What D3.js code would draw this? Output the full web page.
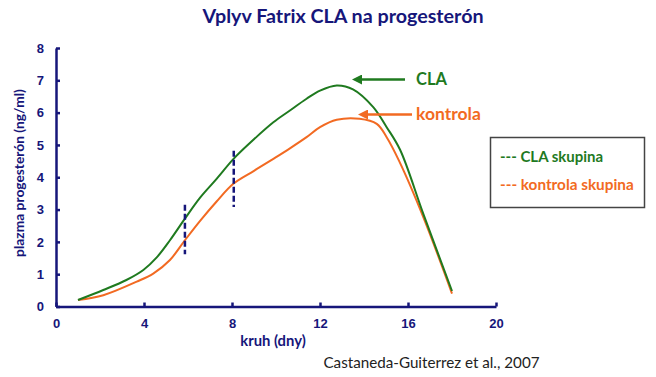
<!DOCTYPE html>
<html><head><meta charset="utf-8">
<script src="https://cdn.jsdelivr.net/npm/d3@7"></script>
<style>body{margin:0;background:#fff}svg{display:block}</style>
</head><body>
<svg id="c" width="656" height="377"></svg>
<script>
// ---- data ----
const claDays  = [1, 2.15, 3.2, 3.97, 4.58, 5.18, 5.86, 6.55, 7.3, 8.06, 8.8, 9.88, 10.6, 11.39, 12.0, 12.76, 13.5, 14.42, 15.03, 15.64, 16.7, 18];
const claVals  = [0.2, 0.51, 0.82, 1.13, 1.52, 2.05, 2.72, 3.37, 3.95, 4.56, 5.05, 5.7, 6.05, 6.43, 6.68, 6.84, 6.72, 6.17, 5.55, 4.85, 2.86, 0.48];
const konDays  = [1, 2.15, 3.67, 4.42, 5.18, 5.86, 6.55, 7.3, 8.06, 9.0, 9.88, 10.6, 11.39, 12.0, 12.76, 13.8, 14.58, 15.03, 15.6, 16.7, 18];
const konVals  = [0.2, 0.35, 0.77, 1.02, 1.44, 2.05, 2.65, 3.25, 3.8, 4.2, 4.57, 4.88, 5.24, 5.55, 5.78, 5.81, 5.65, 5.24, 4.5, 2.76, 0.4];
const xTicks = [0, 4, 8, 12, 16, 20];
const yTicks = [0, 1, 2, 3, 4, 5, 6, 7, 8];
const markDays = [5.86, 8.08];
const markLow  = [1.62, 3.08];
const markHigh = [3.15, 4.82];
const labels = {title: "Vplyv Fatrix CLA na progesterón", x: "kruh (dny)", y: "plazma progesterón (ng/ml)",
  cla: "CLA", kon: "kontrola", legCla: "--- CLA skupina", legKon: "--- kontrola skupina",
  cite: "Castaneda-Guiterrez et al., 2007"};

const NAVY = "#16167a", GREEN = "#1f7a1f", ORANGE = "#f26a22";
const FONT = "Lato, 'Open Sans', sans-serif";

const svg = d3.select("#c");
const x = d3.scaleLinear().domain([0, 20]).range([56, 496]);
const y = d3.scaleLinear().domain([0, 8]).range([306.5, 48]);

// axes
const xa = svg.append("g").attr("transform", `translate(0,${y(0)})`)
  .call(d3.axisBottom(x).tickValues(xTicks).tickSize(-4).tickSizeOuter(0).tickPadding(12));
const ya = svg.append("g").attr("transform", `translate(${x(0)},0)`)
  .call(d3.axisLeft(y).tickValues(yTicks).tickSize(-4).tickSizeOuter(0).tickPadding(12));
[xa, ya].forEach(a => {
  a.select(".domain").attr("stroke", NAVY).attr("stroke-width", 2.5);
  a.selectAll(".tick line").attr("stroke", NAVY).attr("stroke-width", 2.5);
  a.selectAll(".tick text").attr("fill", NAVY).attr("font-family", "Arial, 'Liberation Sans', sans-serif")
    .attr("font-weight", "bold").attr("font-size", 13);
});
ya.selectAll(".tick text").attr("x", -12);

// lines
const line = d3.line().x(d => x(d[0])).y(d => y(d[1])).curve(d3.curveCatmullRom.alpha(0.5));
const kon = konDays.map((d, i) => [d, konVals[i]]);
const cla = claDays.map((d, i) => [d, claVals[i]]);
svg.append("path").datum(kon).attr("d", line).attr("fill", "none").attr("stroke", ORANGE).attr("stroke-width", 2);
svg.append("path").datum(cla).attr("d", line).attr("fill", "none").attr("stroke", GREEN).attr("stroke-width", 2);

// dashed markers
svg.selectAll("line.mark").data(markDays).join("line").attr("class", "mark")
  .attr("x1", d => x(d)).attr("x2", d => x(d))
  .attr("y1", (d, i) => y(markHigh[i])).attr("y2", (d, i) => y(markLow[i]))
  .attr("stroke", NAVY).attr("stroke-width", 2.5).attr("stroke-dasharray", "6,3");

// arrows
const defs = svg.append("defs");
[["ag", GREEN], ["ao", ORANGE]].forEach(([id, c]) => {
  defs.append("marker").attr("id", id).attr("viewBox", "0 0 10 10").attr("refX", 2).attr("refY", 5)
    .attr("markerWidth", 4).attr("markerHeight", 4).attr("orient", "auto-start-reverse")
    .append("path").attr("d", "M0,0L10,5L0,10Z").attr("fill", c);
});
svg.append("line").attr("x1", 405).attr("x2", 360).attr("y1", 79.5).attr("y2", 79.5)
  .attr("stroke", GREEN).attr("stroke-width", 2.5).attr("marker-end", "url(#ag)");
svg.append("line").attr("x1", 412).attr("x2", 366).attr("y1", 114.5).attr("y2", 114.5)
  .attr("stroke", ORANGE).attr("stroke-width", 2.5).attr("marker-end", "url(#ao)");
svg.append("text").attr("x", 416).attr("y", 85).text(labels.cla)
  .attr("fill", GREEN).attr("font-family", FONT).attr("font-weight", "bold").attr("font-size", 16.5);
svg.append("text").attr("x", 416).attr("y", 120).text(labels.kon)
  .attr("fill", ORANGE).attr("font-family", FONT).attr("font-weight", "bold").attr("font-size", 17.5);

// legend box
svg.append("rect").attr("x", 490.5).attr("y", 137.5).attr("width", 154).attr("height", 70)
  .attr("fill", "#fff").attr("stroke", "#444").attr("stroke-width", 1.5);
svg.append("text").attr("x", 500).attr("y", 161.5).text(labels.legCla)
  .attr("fill", GREEN).attr("font-family", FONT).attr("font-weight", "bold").attr("font-size", 15);
svg.append("text").attr("x", 500).attr("y", 189.5).text(labels.legKon)
  .attr("fill", ORANGE).attr("font-family", FONT).attr("font-weight", "bold").attr("font-size", 15.3);

// titles
svg.append("text").attr("x", 343).attr("y", 23).attr("text-anchor", "middle").text(labels.title)
  .attr("fill", NAVY).attr("font-family", FONT).attr("font-weight", "bold").attr("font-size", 19.7);
svg.append("text").attr("x", 273).attr("y", 345.5).attr("text-anchor", "middle").text(labels.x)
  .attr("fill", NAVY).attr("font-family", FONT).attr("font-weight", "bold").attr("font-size", 14.8);
svg.append("text").attr("transform", "translate(24,173) rotate(-90)").attr("text-anchor", "middle").text(labels.y)
  .attr("fill", NAVY).attr("font-family", FONT).attr("font-weight", "bold").attr("font-size", 13.8);
svg.append("text").attr("x", 431.5).attr("y", 368).attr("text-anchor", "middle").text(labels.cite)
  .attr("fill", "#222").attr("font-family", FONT).attr("font-size", 15.2);
</script>
</body></html>
